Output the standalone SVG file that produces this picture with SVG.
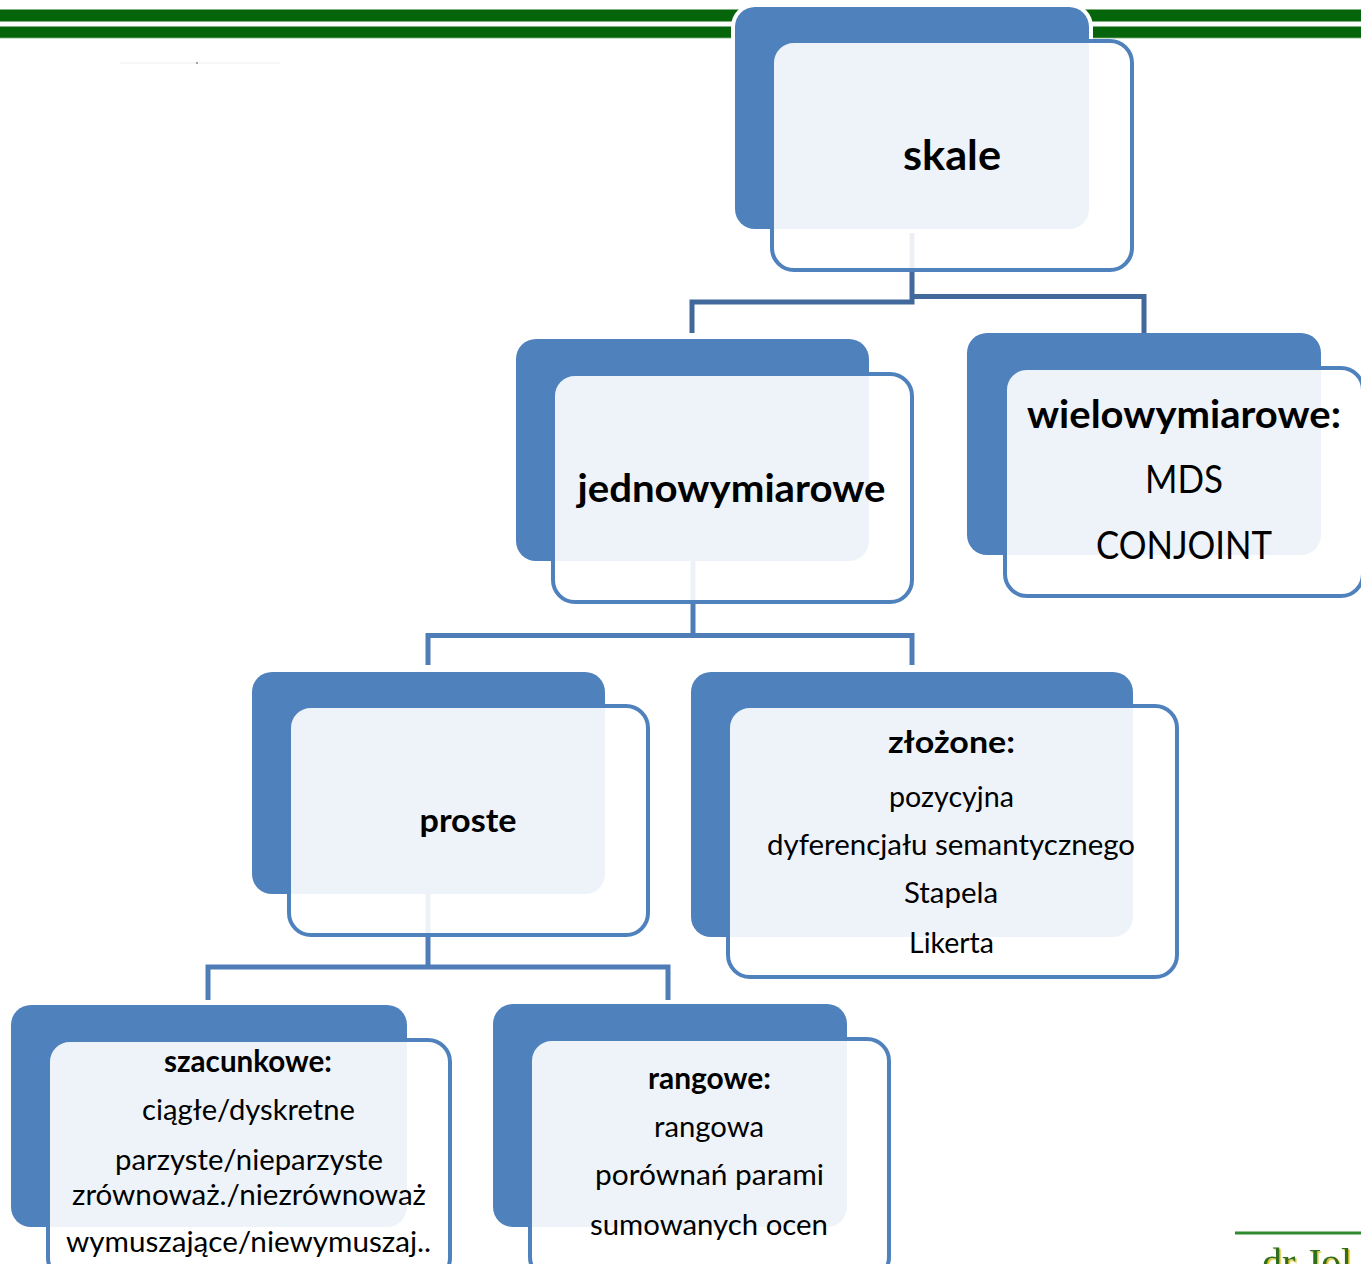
<svg xmlns="http://www.w3.org/2000/svg" width="1361" height="1264" viewBox="0 0 1361 1264">
<defs>
<style>
.back{fill:#4F81BD;}
.halo{fill:#FFFFFF;}
.front{fill:#FFFFFF;fill-opacity:0.9;stroke:#4F81BD;stroke-width:4;}
.conn{fill:none;stroke:#4E7DB8;stroke-width:5;stroke-linejoin:miter;}
.conn1{fill:none;stroke:#41699C;stroke-width:5;stroke-linejoin:miter;}
.t{font-family:Lato,"Open Sans","Liberation Sans",sans-serif;fill:#000000;text-anchor:middle;}
.b{font-weight:bold;}
.band{fill:#06640A;stroke:#7FB07F;stroke-width:0.8;}
</style>
<filter id="gold" x="-10%" y="-10%" width="130%" height="130%">
<feDropShadow dx="1.5" dy="1.5" stdDeviation="0.6" flood-color="#D4B800" flood-opacity="0.9"/>
</filter>
</defs>
<rect x="0" y="0" width="1361" height="1264" fill="#FFFFFF"/>
<g id="decor">
<rect class="band" x="-2" y="9.5" width="1365" height="12"/>
<rect class="band" x="-2" y="26.5" width="1365" height="11.5"/>
<line x1="120" y1="63" x2="280" y2="63" stroke="#EEEEEE" stroke-width="1"/>
<circle cx="197" cy="63" r="1" fill="#888888"/>
<line x1="1235" y1="1233" x2="1361" y2="1233" stroke="#2F8A2F" stroke-width="3"/>
<text x="1262" y="1276" font-family="'Liberation Serif',serif" font-size="40" fill="#2E6E1E" filter="url(#gold)">dr Jol</text>
</g>
<g id="connectors">
<polyline class="conn1" points="692,333 692,302 912,302 912,200"/>
<polyline class="conn1" points="912,296.5 1144,296.5 1144,333"/>
<polyline class="conn" points="693,540 693,635.5"/>
<polyline class="conn" points="428,665 428,635.5 912,635.5 912,665"/>
<polyline class="conn" points="428,880 428,967"/>
<polyline class="conn" points="208,1000 208,967 668,967 668,1000"/>
</g>
<g id="node-skale">
<rect class="halo" x="731" y="3" width="362" height="230" rx="24"/>
<rect class="back" x="735" y="7" width="354" height="222" rx="20"/>
<rect class="front" x="772" y="41" width="360" height="229" rx="22"/>
<text class="t b" x="952" y="170" font-size="42" textLength="98" lengthAdjust="spacingAndGlyphs">skale</text>
</g>
<g id="node-jednowymiarowe">
<rect class="back" x="516" y="339" width="353" height="222" rx="20"/>
<rect class="front" x="553" y="374" width="359" height="228" rx="22"/>
<text class="t b" x="731.5" y="502" font-size="39" textLength="308" lengthAdjust="spacingAndGlyphs">jednowymiarowe</text>
</g>
<g id="node-wielowymiarowe">
<rect class="back" x="967" y="333" width="354" height="222" rx="20"/>
<rect class="front" x="1005" y="368" width="358" height="228" rx="22"/>
<text class="t b" x="1184" y="428" font-size="39" textLength="314" lengthAdjust="spacingAndGlyphs">wielowymiarowe:</text>
<text class="t" x="1184" y="493" font-size="39" textLength="78" lengthAdjust="spacingAndGlyphs">MDS</text>
<text class="t" x="1184" y="559" font-size="39" textLength="176" lengthAdjust="spacingAndGlyphs">CONJOINT</text>
</g>
<g id="node-proste">
<rect class="back" x="252" y="672" width="353" height="222" rx="20"/>
<rect class="front" x="289" y="706" width="359" height="229" rx="22"/>
<text class="t b" x="468" y="832" font-size="33" textLength="97" lengthAdjust="spacingAndGlyphs">proste</text>
</g>
<g id="node-zlozone">
<rect class="back" x="691" y="672" width="442" height="265" rx="20"/>
<rect class="front" x="728" y="706" width="449" height="271" rx="22"/>
<text class="t b" x="951.5" y="753" font-size="30" textLength="127" lengthAdjust="spacingAndGlyphs">złożone:</text>
<text class="t" x="951.5" y="807" font-size="29.5" textLength="125" lengthAdjust="spacingAndGlyphs">pozycyjna</text>
<text class="t" x="951" y="855" font-size="29.5" textLength="368" lengthAdjust="spacingAndGlyphs">dyferencjału semantycznego</text>
<text class="t" x="951" y="903" font-size="29.5" textLength="94" lengthAdjust="spacingAndGlyphs">Stapela</text>
<text class="t" x="951.5" y="953" font-size="29.5" textLength="85" lengthAdjust="spacingAndGlyphs">Likerta</text>
</g>
<g id="node-szacunkowe">
<rect class="back" x="11" y="1005" width="396" height="222" rx="20"/>
<rect class="front" x="48" y="1040" width="402" height="240" rx="22"/>
<text class="t b" x="248" y="1072" font-size="29.5" textLength="168" lengthAdjust="spacingAndGlyphs">szacunkowe:</text>
<text class="t" x="248.5" y="1120" font-size="29.5" textLength="213" lengthAdjust="spacingAndGlyphs">ciągłe/dyskretne</text>
<text class="t" x="249" y="1170" font-size="29.5" textLength="268" lengthAdjust="spacingAndGlyphs">parzyste/nieparzyste</text>
<text class="t" x="249" y="1205" font-size="29.5" textLength="354" lengthAdjust="spacingAndGlyphs">zrównoważ./niezrównoważ</text>
<text class="t" x="248.5" y="1252" font-size="29.5" textLength="365" lengthAdjust="spacingAndGlyphs">wymuszające/niewymuszaj..</text>
</g>
<g id="node-rangowe">
<rect class="back" x="493" y="1004" width="354" height="223" rx="20"/>
<rect class="front" x="530" y="1039" width="359" height="240" rx="22"/>
<text class="t b" x="709.5" y="1089" font-size="29.5" textLength="123" lengthAdjust="spacingAndGlyphs">rangowe:</text>
<text class="t" x="709" y="1137" font-size="29.5" textLength="110" lengthAdjust="spacingAndGlyphs">rangowa</text>
<text class="t" x="709.5" y="1185" font-size="29.5" textLength="229" lengthAdjust="spacingAndGlyphs">porównań parami</text>
<text class="t" x="709" y="1235" font-size="29.5" textLength="238" lengthAdjust="spacingAndGlyphs">sumowanych ocen</text>
</g>
</svg>
